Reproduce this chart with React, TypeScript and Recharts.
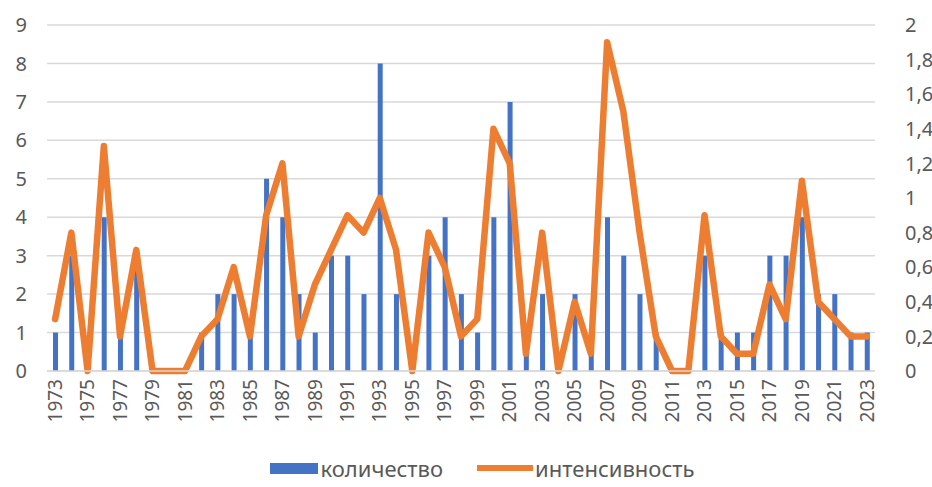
import React from 'react';
import { ComposedChart, Bar, Line, XAxis, YAxis, CartesianGrid, Legend } from 'recharts';

const years = [
  '1973', '1974', '1975', '1976', '1977', '1978', '1979', '1980', '1981', '1982',
  '1983', '1984', '1985', '1986', '1987', '1988', '1989', '1990', '1991', '1992',
  '1993', '1994', '1995', '1996', '1997', '1998', '1999', '2000', '2001', '2002',
  '2003', '2004', '2005', '2006', '2007', '2008', '2009', '2010', '2011', '2012',
  '2013', '2014', '2015', '2016', '2017', '2018', '2019', '2020', '2021', '2022', '2023',
];

const counts = [
  1, 3, 0, 4, 1, 3, 0, 0, 0, 1,
  2, 2, 1, 5, 4, 2, 1, 3, 3, 2,
  8, 2, 0, 3, 4, 2, 1, 4, 7, 1,
  2, 0, 2, 1, 4, 3, 2, 1, 0, 0,
  3, 1, 1, 1, 3, 3, 4, 2, 2, 1, 1,
];

const intensity = [
  0.3, 0.8, 0, 1.3, 0.2, 0.7, 0, 0, 0, 0.2,
  0.3, 0.6, 0.2, 0.9, 1.2, 0.2, 0.5, 0.7, 0.9, 0.8,
  1.0, 0.7, 0, 0.8, 0.6, 0.2, 0.3, 1.4, 1.2, 0.1,
  0.8, 0, 0.4, 0.1, 1.9, 1.5, 0.8, 0.2, 0, 0,
  0.9, 0.2, 0.1, 0.1, 0.5, 0.3, 1.1, 0.4, 0.3, 0.2, 0.2,
];

const leftTicks = [0, 1, 2, 3, 4, 5, 6, 7, 8, 9];
const rightTicks = [0, 0.2, 0.4, 0.6, 0.8, 1, 1.2, 1.4, 1.6, 1.8, 2];

const seriesNames = { count: 'количество', intensity: 'интенсивность' };

const data = years.map((y, i) => ({ year: y, count: counts[i], intensity: intensity[i] }));

const FONT = '"Noto Sans", "Open Sans", sans-serif';
const TEXT = '#595959';
const BLUE = '#4472C4';
const ORANGE = '#ED7D31';
const GRID = '#D9D9D9';

const XTick = (props: any) => {
  const { x, y, payload } = props;
  return (
    <text
      x={x}
      y={y}
      transform={`rotate(-90, ${x}, ${y})`}
      textAnchor="end"
      dy="0.35em"
      fill={TEXT}
      fontSize={19}
      fontFamily={FONT}
    >
      {payload.value}
    </text>
  );
};

const LegendContent = () => (
  <div
    style={{
      height: 30,
      display: 'flex',
      justifyContent: 'center',
      alignItems: 'center',
      paddingLeft: 32,
      fontFamily: FONT,
      fontSize: 22,
      color: TEXT,
    }}
  >
    <div style={{ display: 'flex', alignItems: 'center', marginRight: 34 }}>
      <div style={{ width: 48, height: 11, background: BLUE, marginRight: 3 }} />
      <span>{seriesNames.count}</span>
    </div>
    <div style={{ display: 'flex', alignItems: 'center' }}>
      <div style={{ width: 56, height: 6, background: ORANGE, marginRight: 2 }} />
      <span>{seriesNames.intensity}</span>
    </div>
  </div>
);

export default function App() {
  return (
    <div style={{ position: 'absolute', left: 0, top: 0, background: '#fff', fontFamily: FONT }}>
      <ComposedChart
        width={932}
        height={487}
        data={data}
        margin={{ top: 25, right: 0, bottom: 4, left: 0 }}
      >
        <CartesianGrid vertical={false} stroke={GRID} strokeWidth={1.5} yAxisId="left" />
        <XAxis
          dataKey="year"
          interval={1}
          tickLine={false}
          axisLine={{ stroke: GRID, strokeWidth: 1.5 }}
          height={82}
          tick={<XTick />}
        />
        <YAxis
          yAxisId="left"
          orientation="left"
          width={47}
          domain={[0, 9]}
          ticks={leftTicks}
          axisLine={false}
          tickLine={false}
          tickMargin={14}
          tick={{ fill: TEXT, fontSize: 20, fontFamily: FONT }}
          interval={0}
        />
        <YAxis
          yAxisId="right"
          orientation="right"
          width={57}
          domain={[0, 2]}
          ticks={rightTicks}
          axisLine={false}
          tickLine={false}
          tickMargin={24}
          tick={{ fill: TEXT, fontSize: 20, fontFamily: FONT, textAnchor: 'start' }}
          tickFormatter={(v: number) => String(v).replace('.', ',')}
          interval={0}
        />
        <Bar
          yAxisId="left"
          dataKey="count"
          name={seriesNames.count}
          fill={BLUE}
          barSize={5}
          isAnimationActive={false}
        />
        <Line
          yAxisId="right"
          dataKey="intensity"
          name={seriesNames.intensity}
          type="linear"
          stroke={ORANGE}
          strokeWidth={6.5}
          strokeLinejoin="round"
          strokeLinecap="round"
          dot={false}
          activeDot={false}
          isAnimationActive={false}
        />
        <Legend verticalAlign="bottom" align="center" content={<LegendContent />} />
      </ComposedChart>
    </div>
  );
}
